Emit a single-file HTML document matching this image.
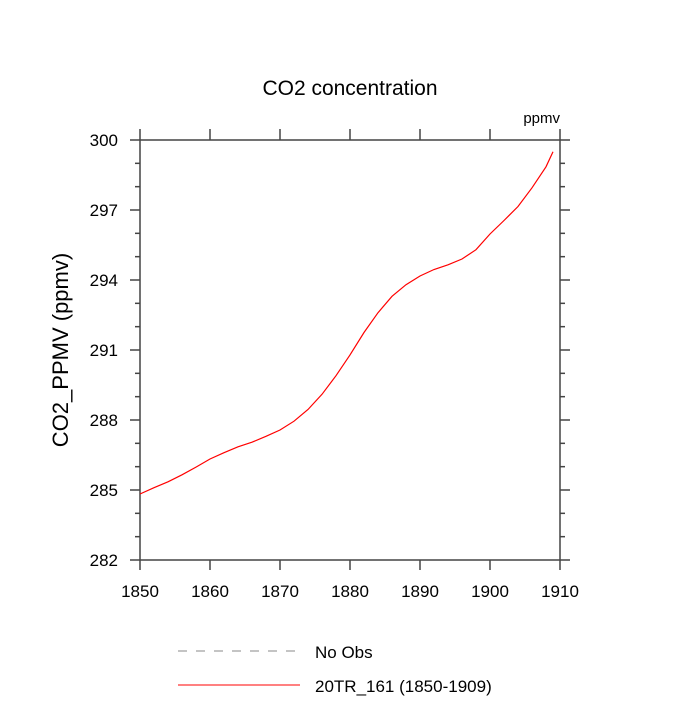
<!DOCTYPE html>
<html><head><meta charset="utf-8"><style>
body{margin:0;background:#fff;}
svg text{font-family:"Liberation Sans",sans-serif;fill:#000;}
</style></head><body>
<svg width="700" height="700" id="c">
<text x="350" y="95" text-anchor="middle" font-size="21">CO2 concentration</text>
<text x="560" y="123" text-anchor="end" font-size="15">ppmv</text>
<text transform="translate(68,350) rotate(-90)" text-anchor="middle" font-size="22">CO2_PPMV  (ppmv)</text>
<rect x="140" y="140" width="420" height="420" fill="none" stroke="#444" stroke-width="1.5"/>
<g id="ticks"></g>
<path id="series" fill="none" stroke="#f00" stroke-width="1.2"/>
<line x1="178" y1="651" x2="300" y2="651" stroke="#888" stroke-dasharray="9,9"/>
<text x="315" y="658" font-size="17">No Obs</text>
<line x1="178" y1="685" x2="300" y2="685" stroke="#f00"/>
<text x="315" y="692" font-size="17">20TR_161 (1850-1909)</text>
</svg>
<script>
const years=[1850,1852,1854,1856,1858,1860,1862,1864,1866,1868,1870,1872,1874,1876,1878,1880,1882,1884,1886,1888,1890,1892,1894,1896,1898,1900,1902,1904,1906,1908,1909];
const co2=[284.83,285.1,285.35,285.65,285.98,286.33,286.6,286.85,287.05,287.3,287.57,287.95,288.45,289.1,289.9,290.79,291.75,292.6,293.3,293.8,294.17,294.45,294.65,294.9,295.3,295.97,296.55,297.15,297.95,298.85,299.5];
const xTicks=[1850,1860,1870,1880,1890,1900,1910];
const yTicks=[282,285,288,291,294,297,300];
const X=v=>140+(v-1850)/60*420, Y=v=>560-(v-282)/18*420;
const NS="http://www.w3.org/2000/svg", g=document.getElementById('ticks'), svg=document.getElementById('c');
function ln(x1,y1,x2,y2){const l=document.createElementNS(NS,'line');l.setAttribute('x1',x1);l.setAttribute('y1',y1);l.setAttribute('x2',x2);l.setAttribute('y2',y2);l.setAttribute('stroke','#444');l.setAttribute('stroke-width','1.5');


g.appendChild(l);}
function tx(x,y,s,a){const t=document.createElementNS(NS,'text');t.setAttribute('x',x);t.setAttribute('y',y);t.setAttribute('font-size','17');t.setAttribute('text-anchor',a);t.textContent=s;


svg.appendChild(t);}
xTicks.forEach(v=>{const x=X(v);ln(x,560,x,570);ln(x,140,x,129);});
for(let v=282;v<=300;v++){const y=Y(v),m=(v%3==0)?10:5;ln(140,y,140-m,y);ln(560,y,560+m,y);}
xTicks.forEach(v=>tx(X(v),597,v,'middle'));
yTicks.forEach(v=>tx(118,Y(v)+6,v,'end'));
document.getElementById('series').setAttribute('d',years.map((y,i)=>(i?'L':'M')+X(y).toFixed(1)+','+Y(co2[i]).toFixed(1)).join(''));
</script>
</body></html>
